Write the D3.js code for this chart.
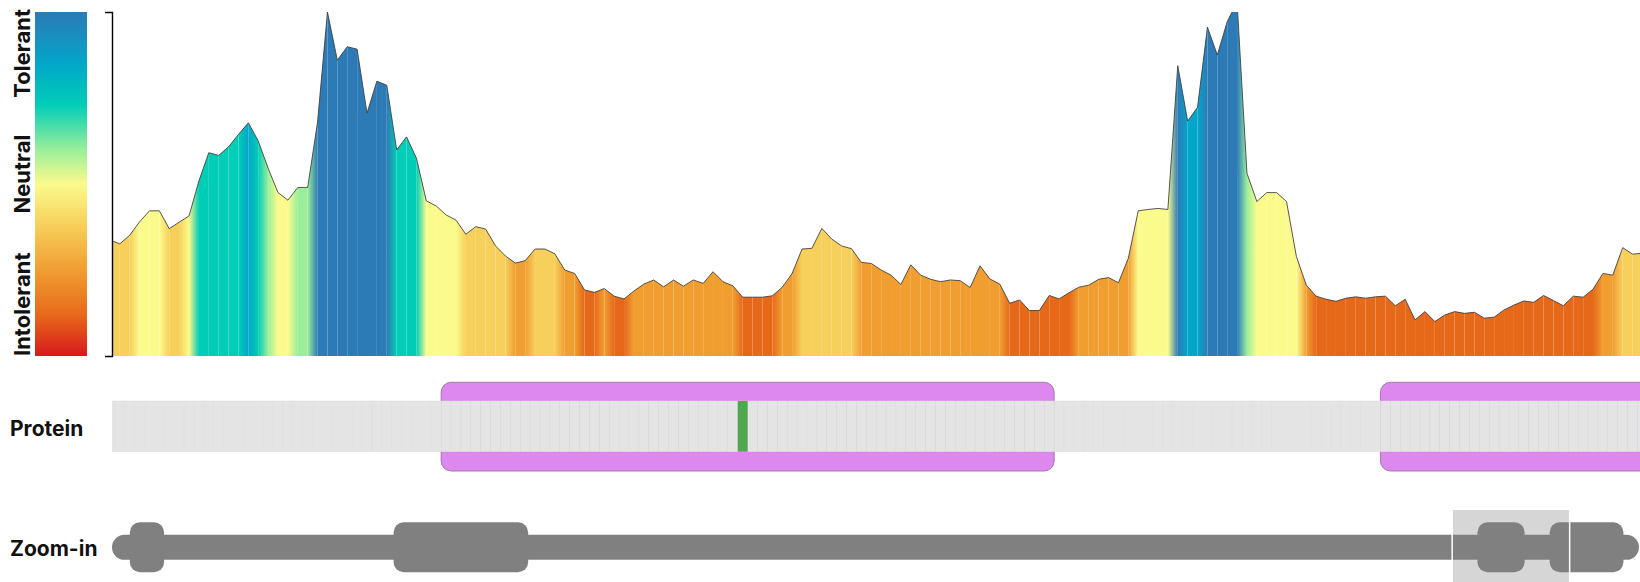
<!DOCTYPE html>
<html>
<head>
<meta charset="utf-8">
<script src="https://cdn.jsdelivr.net/npm/d3@7"></script>
<style>
  html, body { margin: 0; padding: 0; background: #fff; }
  svg { display: block; }
  text { font-family: Inter, "Open Sans", sans-serif; font-weight: 700; fill: #111; }
</style>
</head>
<body>
<svg id="chart" width="1640" height="582"></svg>
<script>
// ---- data -------------------------------------------------------------
const proteinLength = 2010;
const viewStart = 1764.21;          // residue window of the main panel
const viewEnd = 1918.75;
const firstResidue = 1764;          // residue of the first score below

// tolerance score per residue (0 = most intolerant, 100 = panel top)
const tolerance = [
  33.7, 32.6, 35.1, 39.0, 42.2, 42.2, 37.0, 38.9, 40.7, 50.9,
  59.1, 58.3, 60.8, 64.4, 67.8, 62.5, 54.6, 47.5, 45.3, 49.0,
  49.0, 68.0, 100, 86.0, 89.9, 89.2, 70.6, 79.9, 78.7, 59.9,
  63.7, 57.5, 45.1, 43.6, 41.0, 39.5, 35.4, 37.6, 36.9, 32.0,
  29.1, 27.0, 27.7, 31.1, 31.1, 29.7, 25.0, 24.0, 19.2, 18.5,
  19.6, 17.4, 16.6, 18.9, 20.9, 22.1, 20.1, 22.1, 20.3, 22.1,
  21.1, 24.5, 21.6, 20.4, 17.1, 17.1, 17.1, 17.5, 20.0, 24.0,
  31.1, 31.3, 37.1, 34.0, 32.0, 31.2, 27.2, 26.9, 25.0, 23.5,
  20.8, 26.5, 23.5, 22.3, 21.6, 22.1, 21.9, 19.9, 26.2, 22.4,
  20.9, 15.3, 16.3, 13.2, 13.2, 17.6, 16.6, 18.4, 20.0, 20.6,
  22.3, 22.8, 21.3, 28.4, 42.2, 42.6, 42.9, 42.6, 84.4, 68.3,
  72.3, 95.6, 87.5, 97.2, 102.9, 53.1, 44.9, 47.5, 47.5, 44.9,
  28.9, 20.6, 17.4, 16.5, 15.9, 16.8, 17.2, 16.8, 17.2, 17.4,
  14.6, 16.5, 10.5, 12.9, 10.0, 11.9, 12.9, 12.4, 12.7, 11.0,
  11.3, 13.4, 14.8, 16.0, 15.6, 17.6, 16.1, 14.6, 17.4, 17.1,
  19.4, 24.0, 23.5, 31.5, 29.6, 29.9
];

// tolerance class per residue (0 = intolerant ... 8 = tolerant)
const toleranceClass = [
  3, 3, 3, 4, 4, 4, 3, 3, 4, 6,
  6, 6, 6, 6, 7, 6, 5, 4, 4, 5,
  5, 8, 8, 8, 8, 8, 8, 8, 8, 6,
  6, 6, 4, 4, 4, 4, 3, 3, 3, 3,
  3, 2, 2, 3, 3, 3, 2, 2, 1, 1,
  2, 1, 1, 2, 2, 2, 2, 2, 2, 2,
  2, 2, 2, 2, 1, 1, 1, 1, 2, 2,
  3, 3, 3, 3, 3, 3, 2, 2, 2, 2,
  2, 2, 2, 2, 2, 2, 2, 2, 2, 2,
  2, 1, 1, 1, 1, 1, 1, 1, 2, 2,
  2, 2, 2, 2, 4, 4, 4, 4, 8, 7,
  7, 8, 8, 8, 8, 5, 4, 4, 4, 4,
  4, 2, 1, 1, 1, 1, 1, 1, 1, 1,
  1, 1, 1, 1, 1, 1, 1, 1, 1, 1,
  1, 1, 1, 1, 1, 1, 1, 1, 1, 1,
  1, 2, 2, 3, 3, 3
];

const classColors = ["#d7191c", "#e6691a", "#f19e31", "#f7cf5b", "#fbfb8c",
                     "#9aee9a", "#00cdb6", "#02a6c9", "#2c7bb6"];

// colour bar, bottom (0) to top (1)
const legendOffsets = [0, 0.12, 0.25, 0.38, 0.5, 0.6, 0.73, 0.85, 1];
const legendColors = ["#d7191c", "#e6691a", "#f19e31", "#f7cf5b", "#fbfb8c",
                      "#9aee9a", "#00cdb6", "#02a6c9", "#2c7bb6"];
const legendLabels = ["Intolerant", "Neutral", "Tolerant"];

// annotated protein domains (residue ranges) and a marked variant
const domainStarts = [25, 372, 1798, 1893];
const domainEnds = [69, 548, 1859, 1989];
const variantResidues = [1828];
const trackLabels = ["Protein", "Zoom-in"];

// ---- layout -------------------------------------------------------------
const svg = d3.select("#chart");
const plotLeft = 112, plotRight = 1640, plotTop = 12, plotBottom = 356;

const residues = tolerance.map((v, i) => ({ pos: firstResidue + i, v, c: toleranceClass[i] }));

const x = d3.scaleLinear().domain([viewStart, viewEnd]).range([plotLeft, plotRight]);
const y = d3.scaleLinear().domain([0, 100]).range([plotBottom, plotTop]);
const color = d => classColors[d.c];

const defs = svg.append("defs");
defs.append("clipPath").attr("id", "plot-clip")
  .append("rect").attr("x", plotLeft).attr("y", plotTop)
  .attr("width", plotRight - plotLeft).attr("height", plotBottom - plotTop);
defs.append("clipPath").attr("id", "track-clip")
  .append("rect").attr("x", plotLeft).attr("y", 370)
  .attr("width", plotRight - plotLeft).attr("height", 120);

// ---- colour bar legend ------------------------------------------------
const lg = defs.append("linearGradient").attr("id", "legend-grad")
  .attr("x1", 0).attr("y1", 1).attr("x2", 0).attr("y2", 0);
legendOffsets.forEach((o, i) => lg.append("stop").attr("offset", o).attr("stop-color", legendColors[i]));
svg.append("rect").attr("x", 35).attr("y", plotTop).attr("width", 52)
  .attr("height", plotBottom - plotTop).attr("fill", "url(#legend-grad)");

const legendText = [
  { t: legendLabels[0], y: 356, anchor: "start" },
  { t: legendLabels[1], y: 174, anchor: "middle" },
  { t: legendLabels[2], y: 9, anchor: "end" }
];
svg.selectAll("text.legend").data(legendText).join("text")
  .attr("class", "legend")
  .attr("transform", d => `translate(29.5,${d.y}) rotate(-90)`)
  .attr("text-anchor", d => d.anchor)
  .style("font-size", "22px")
  .text(d => d.t);

// ---- tolerance landscape ----------------------------------------------
const plot = svg.append("g").attr("clip-path", "url(#plot-clip)");
const segArea = d3.area().x(d => x(d.pos)).y0(y(0)).y1(d => y(d.v));
const segments = d3.pairs(residues);

segments.forEach(([a, b], i) => {
  const g = defs.append("linearGradient").attr("id", "seg" + i)
    .attr("gradientUnits", "userSpaceOnUse")
    .attr("x1", x(a.pos)).attr("x2", x(b.pos)).attr("y1", 0).attr("y2", 0);
  g.append("stop").attr("offset", 0).attr("stop-color", color(a));
  g.append("stop").attr("offset", 1).attr("stop-color", color(b));
});

plot.selectAll("path.seg").data(segments).join("path")
  .attr("class", "seg")
  .attr("d", d => segArea(d))
  .attr("fill", (d, i) => `url(#seg${i})`);

plot.append("path").datum(residues)
  .attr("d", d3.line().x(d => x(d.pos)).y(d => y(d.v)))
  .attr("fill", "none").attr("stroke", "#3a3a3a")
  .attr("stroke-width", 1).attr("stroke-opacity", 0.85);

svg.append("g").attr("transform", `translate(${plotLeft},0)`)
  .call(d3.axisLeft(y).tickValues([]).tickSizeOuter(7))
  .call(g => g.select(".domain").attr("stroke", "#000").attr("stroke-width", 1.4));

// ---- protein track -----------------------------------------------------
const track = svg.append("g").attr("clip-path", "url(#track-clip)");
const domains = domainStarts.map((s, i) => ({ start: s, end: domainEnds[i] }));

track.selectAll("rect.domain").data(domains.filter(d => d.end >= viewStart && d.start <= viewEnd)).join("rect")
  .attr("class", "domain")
  .attr("x", d => x(d.start - 0.5)).attr("y", 382.3)
  .attr("width", d => x(d.end + 0.5) - x(d.start - 0.5)).attr("height", 88.7)
  .attr("rx", 10).attr("fill", "#dd88ee").attr("stroke", "#a07aa6").attr("stroke-width", 1);

track.selectAll("rect.cell").data(residues).join("rect")
  .attr("class", "cell")
  .attr("x", d => x(d.pos - 0.5)).attr("y", 401)
  .attr("width", d => x(d.pos + 0.5) - x(d.pos - 0.5)).attr("height", 50.7)
  .attr("fill", "#e4e4e4").attr("stroke", "#dcdcdc").attr("stroke-width", 0.4);

track.selectAll("rect.variant").data(variantResidues).join("rect")
  .attr("class", "variant")
  .attr("x", d => x(d - 0.5)).attr("y", 401)
  .attr("width", d => x(d + 0.5) - x(d - 0.5)).attr("height", 50.7)
  .attr("fill", "#4ea84e");

// ---- overview (zoom-in) track -----------------------------------------
const tx = d3.scaleLinear().domain([1, proteinLength]).range([plotLeft, 1639]);
const brushX0 = tx(viewStart), brushX1 = tx(viewEnd);

svg.append("rect").attr("x", brushX0).attr("y", 510)
  .attr("width", brushX1 - brushX0).attr("height", 90).attr("fill", "#d6d6d6");

svg.append("rect").attr("x", tx(1)).attr("y", 534.8)
  .attr("width", tx(proteinLength) - tx(1)).attr("height", 25).attr("rx", 12.5)
  .attr("fill", "#808080");

svg.selectAll("rect.block").data(domains).join("rect")
  .attr("class", "block")
  .attr("x", d => tx(d.start - 0.5)).attr("y", 522.3)
  .attr("width", d => tx(d.end + 0.5) - tx(d.start - 0.5)).attr("height", 50)
  .attr("rx", 10).attr("fill", "#808080");

svg.selectAll("line.handle").data([brushX0, brushX1]).join("line")
  .attr("class", "handle")
  .attr("x1", d => d).attr("x2", d => d).attr("y1", 510).attr("y2", 600)
  .attr("stroke", "#fff").attr("stroke-width", 1.5);

// ---- track labels ------------------------------------------------------
svg.selectAll("text.track").data(trackLabels).join("text")
  .attr("class", "track")
  .attr("x", 10).attr("y", (d, i) => [435.5, 555.8][i])
  .style("font-size", "21px")
  .text(d => d);
</script>
</body>
</html>
